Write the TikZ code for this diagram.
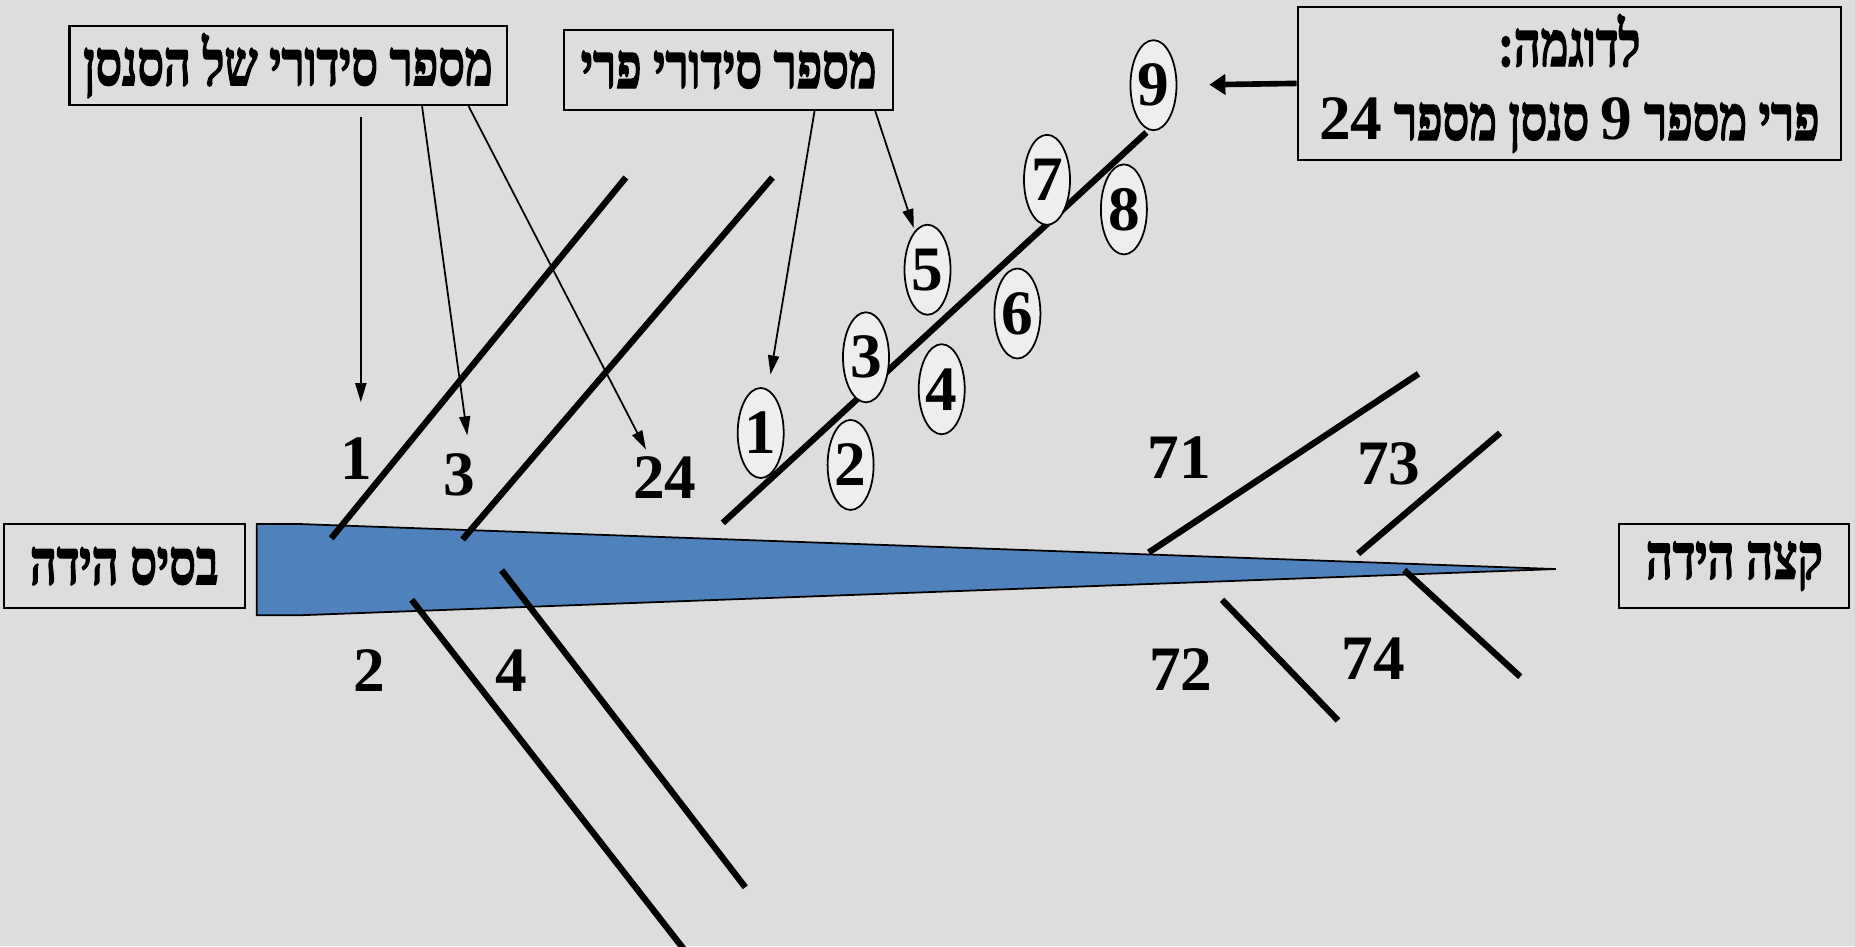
\documentclass[tikz,border=0pt]{standalone}
\usepackage{fontspec}
\setmainfont{Liberation Serif}
\newfontfamily\hebfont[Script=Hebrew, FakeStretch=0.74, BoldFeatures={FakeBold=2}]{Liberation Serif}
\TeXXeTstate=1
\usepackage{tikz}
\usetikzlibrary{arrows.meta,shapes.geometric,calc}
\definecolor{bggray}{HTML}{DDDDDD}
\definecolor{fruitgray}{HTML}{EEEEEE}
\definecolor{leafblue}{HTML}{4F81BD}

\begin{document}
\begin{tikzpicture}[x=0.01183cm, y=-0.01183cm,
  box/.style={draw, line width=0.6pt, align=center, font=\hebfont\fontsize{18}{21}\selectfont\bfseries, inner sep=2pt},
  lbl/.style={font=\fontsize{18}{20}\selectfont\bfseries, inner sep=0pt},
  fruit/.style={draw, ellipse, fill=fruitgray, line width=0.5pt, minimum width=0.46cm, minimum height=0.9cm, inner sep=0pt, font=\fontsize{18}{20}\selectfont\bfseries},
  branch/.style={line width=1.8pt},
  arr/.style={-{Triangle[length=1.9mm, width=1.1mm]}, line width=0.5pt},
  bigarr/.style={-{Triangle[length=1.6mm, width=2mm]}, line width=1.6pt}]
\useasboundingbox (0,0) rectangle (1568,800);
\fill[bggray] (0,0) rectangle (1568,800);
\node[box, minimum width=4.37cm, minimum height=0.79cm] (sensenbox) at (243.5,55.5) {\beginR מספר סידורי של הסנסן\endR};
\node[box, minimum width=3.29cm, minimum height=0.8cm] (fruitbox) at (616,59) {\beginR מספר סידורי פרי\endR};
\node[box, minimum width=5.43cm, minimum height=1.48cm] (examplebox) at (1326.5,70.5) {\beginR לדוגמה:\endR\\\beginR פרי מספר \beginL{\rmfamily 9}\endL{} סנסן מספר \beginL{\rmfamily 24}\endL\endR};
\node[box, minimum width=2.41cm, minimum height=0.84cm] (basebox) at (105,478.5) {\beginR בסיס הידה\endR};
\node[box, minimum width=2.30cm, minimum height=0.84cm] (tipbox) at (1466,478.5) {\beginR קצה הידה\endR};
\filldraw[fill=leafblue, line width=0.5pt] (217,443) -- (255,443) -- (1315,481) -- (255,520) -- (217,520) -- cycle;
\draw[branch] (280,455) -- (529,150);
\draw[branch] (391,456) -- (653,150);
\draw[branch] (348,507) -- (584,810);
\draw[branch] (424,482) -- (630,750);
\draw[branch] (611,442) -- (969,112);
\draw[branch] (971,467) -- (1199,316);
\draw[branch] (1148,468) -- (1268,366);
\draw[branch] (1033,507) -- (1131,609);
\draw[branch] (1187,482) -- (1285,572);
\node[lbl] (s1) at (301,388) {1};
\node[lbl] (s3) at (388,401) {3};
\node[lbl] (s24) at (562,404) {24};
\node[lbl] (s2) at (312,567) {2};
\node[lbl] (s4) at (432,567) {4};
\node[lbl] (s71) at (997,387) {71};
\node[lbl] (s73) at (1174,392) {73};
\node[lbl] (s72) at (998,566) {72};
\node[lbl] (s74) at (1161,557) {74};
\node[fruit] (f1) at (643,366) {1};
\node[fruit] (f2) at (719,393) {2};
\node[fruit] (f3) at (732,302) {3};
\node[fruit] (f4) at (796,329) {4};
\node[fruit] (f5) at (784,228) {5};
\node[fruit] (f6) at (860,265) {6};
\node[fruit] (f7) at (885,152) {7};
\node[fruit] (f8) at (950,177) {8};
\node[fruit] (f9) at (975,72) {9};
\coordinate (h1) at (305,340);
\coordinate (h3) at (395,368);
\coordinate (h24) at (546,380);
\draw[arr, shorten <=3pt] (sensenbox.south -| h1) -- (h1);
\draw[arr] ($(sensenbox.south west)!0.805!(sensenbox.south east)$) -- (h3);
\draw[arr] ($(sensenbox.south west)!0.911!(sensenbox.south east)$) -- (h24);
\draw[arr, shorten >=0.15cm] ($(fruitbox.south west)!0.759!(fruitbox.south east)$) -- (f1);
\draw[arr, shorten >=0.03cm] ($(fruitbox.south west)!0.942!(fruitbox.south east)$) -- (f5);
\draw[bigarr, shorten >=0.32cm] (examplebox.west) -- (f9.east);
\end{tikzpicture}
\end{document}
